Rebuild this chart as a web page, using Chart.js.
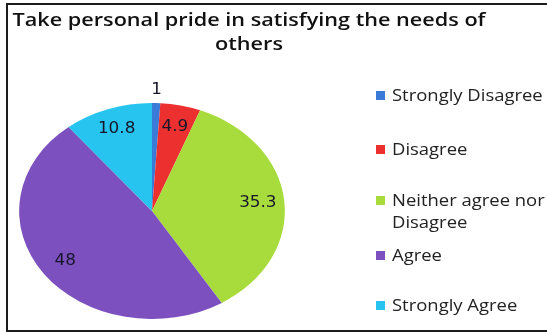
<!DOCTYPE html>
<html>
<head>
<meta charset="utf-8">
<script src="https://cdn.jsdelivr.net/npm/chart.js@4.4.1/dist/chart.umd.min.js"></script>
<style>
  html, body { margin: 0; padding: 0; background: #fff; }
  #wrap { position: relative; width: 547px; height: 332px; overflow: hidden; background: #fff; }
  #frame { position: absolute; left: 6px; top: 3px; width: 560px; height: 325px;
           border-left: 2px solid #1c1c1c; border-top: 2px solid #1c1c1c; border-bottom: 2px solid #1c1c1c; }
  #chart { position: absolute; left: 0; top: 0; }
  #title { position: absolute; left: 0; width: 498px; top: 7px; text-align: center;
           font-family: "Open Sans", sans-serif; font-weight: 600; font-size: 18.5px; line-height: 24px; color: #111;
           transform: scaleX(1.17); transform-origin: 249px 0; }
  .leg { position: absolute; left: 376px; font-family: "Open Sans", sans-serif; font-size: 15.5px; color: #222; line-height: 22px; }
  .leg .box { position: absolute; left: 0; top: 7px; width: 9px; height: 9px; }
  .leg .txt { position: absolute; left: 16px; top: 0; white-space: nowrap; transform: scaleX(1.19); transform-origin: 0 0; }
</style>
</head>
<body>
<div id="wrap">
  <div id="frame"></div>
  <canvas id="chart" width="547" height="332"></canvas>
  <div id="title"></div>
  <div id="legend"></div>
</div>
<script>
const titleLines = ['Take personal pride in satisfying the needs of', 'others'];
const categories = ['Strongly Disagree', 'Disagree', 'Neither agree nor Disagree', 'Agree', 'Strongly Agree'];
const legendLines = [['Strongly Disagree'], ['Disagree'], ['Neither agree nor', 'Disagree'], ['Agree'], ['Strongly Agree']];
const values = [1, 4.9, 35.3, 48, 10.8];
const colors = ['#3a7bd8', '#ec3030', '#a8db3c', '#7c50bf', '#27c4ef'];

const SX = 1.23;            // horizontal stretch of the pie (ellipse)
const legendTops = [84, 138, 189, 244, 294];

document.getElementById('title').innerHTML = titleLines.join('<br>');
const legEl = document.getElementById('legend');
legendLines.forEach((lines, i) => {
  const d = document.createElement('div');
  d.className = 'leg';
  d.style.top = legendTops[i] + 'px';
  d.innerHTML = '<div class="box" style="background:' + colors[i] + '"></div><div class="txt">' + lines.join('<br>') + '</div>';
  legEl.appendChild(d);
});

const ellipsePlugin = {
  id: 'ellipse',
  beforeDatasetsDraw(chart) {
    const arc = chart.getDatasetMeta(0).data[0];
    const ctx = chart.ctx;
    ctx.save();
    ctx.translate(arc.x, 0);
    ctx.scale(SX, 1);
    ctx.translate(-arc.x, 0);
  },
  afterDatasetsDraw(chart) {
    const ctx = chart.ctx;
    ctx.restore();
    const ds = chart.data.datasets[0];
    chart.getDatasetMeta(0).data.forEach((el, i) => {
      const p = el.getProps(['x', 'y', 'startAngle', 'endAngle', 'outerRadius'], true);
      const mid = (p.startAngle + p.endAngle) / 2;
      const f = ds.data[i] < 2 ? 1.12 : 0.8;
      const px = p.x + Math.cos(mid) * p.outerRadius * f * SX;
      const py = p.y + Math.sin(mid) * p.outerRadius * f;
      ctx.save();
      ctx.translate(px, py);
      ctx.scale(1.12, 1);
      ctx.font = '15px "DejaVu Sans"';
      ctx.fillStyle = '#16162a';
      ctx.textAlign = 'center';
      ctx.textBaseline = 'middle';
      ctx.fillText(String(ds.data[i]), 0, 0);
      ctx.restore();
    });
  }
};

new Chart(document.getElementById('chart'), {
  type: 'pie',
  data: {
    labels: categories,
    datasets: [{
      data: values,
      backgroundColor: colors,
      borderWidth: 0
    }]
  },
  options: {
    responsive: false,
    animation: false,
    layout: { padding: { left: 44, right: 287, top: 103, bottom: 13 } },
    plugins: {
      legend: { display: false },
      title: { display: false },
      tooltip: { enabled: false }
    }
  },
  plugins: [ellipsePlugin]
});
</script>
</body>
</html>
